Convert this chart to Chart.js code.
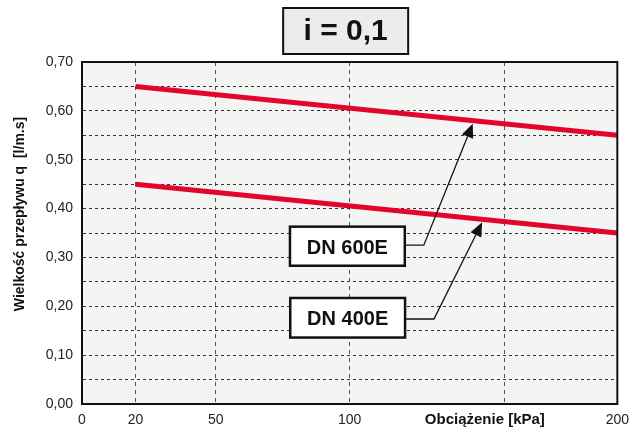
<!DOCTYPE html>
<html>
<head>
<meta charset="utf-8">
<script src="https://cdn.jsdelivr.net/npm/chart.js@4/dist/chart.umd.min.js"></script>
<style>
  html, body { margin: 0; padding: 0; background: #fff; }
  #wrap { width: 637px; height: 428px; }
</style>
</head>
<body>
<div id="wrap"><canvas id="chart"></canvas></div>
<script>
// --- DATA ---
const chartTitle = 'i = 0,1';
const xLoads = [20, 200];          // kPa
const dn600 = [0.65, 0.55];        // l/m.s
const dn400 = [0.45, 0.35];
const seriesNames = ['DN 600E', 'DN 400E'];
const xTickValues = [0, 20, 50, 100, 200];
const xExtraGrid = [158];          // unlabelled vertical gridline
const xTitle = 'Obciążenie [kPa]';
const yTitle = 'Wielkość przepływu q  [l/m.s]';

const FONT = 'Arial, "Liberation Sans", sans-serif';
const RED = '#e2062c';

// callout boxes, placed in data units (left, right, top, bottom), elbow point, arrow target x
const callouts = [
    { series: 0, box: [77.7, 120.6, 0.363, 0.283], elbow: [127.7, 0.325], tipX: 146 },
    { series: 1, box: [77.8, 120.7, 0.217, 0.136], elbow: [131.5, 0.174], tipX: 149.5 }
];
const seriesData = [dn600, dn400];

function valueAt(series, xv) {
    const t = (xv - xLoads[0]) / (xLoads[1] - xLoads[0]);
    return series[0] + t * (series[1] - series[0]);
}

// --- DECORATION PLUGIN: plot background, frame, title box, callouts, axis titles ---
const decor = {
    id: 'decor',
    beforeDraw(chart) {
        const { ctx, chartArea: a } = chart;
        ctx.save();
        ctx.fillStyle = '#f3f5f3';
        ctx.fillRect(a.left, a.top, a.right - a.left, a.bottom - a.top);
        ctx.restore();
    },
    afterDatasetsDraw(chart) {
        const { ctx, chartArea: a, scales: { x, y } } = chart;
        ctx.save();

        // frame
        ctx.strokeStyle = '#111';
        ctx.lineWidth = 2;
        ctx.strokeRect(a.left, a.top, a.right - a.left, a.bottom - a.top);

        // title box
        const cx = (a.left + a.right) / 2 - 4;
        const bw = 125, bh = 46, by = 8;
        ctx.fillStyle = '#ebedeb';
        ctx.fillRect(cx - bw / 2, by, bw, bh);
        ctx.strokeRect(cx - bw / 2, by, bw, bh);
        ctx.fillStyle = '#111';
        ctx.font = `bold 30px ${FONT}`;
        ctx.textAlign = 'center';
        ctx.textBaseline = 'middle';
        ctx.fillText(chartTitle, cx, by + bh / 2 + 1);

        // callouts
        callouts.forEach(c => {
            const l = x.getPixelForValue(c.box[0]), r = x.getPixelForValue(c.box[1]);
            const t = y.getPixelForValue(c.box[2]), b = y.getPixelForValue(c.box[3]);
            const ex = x.getPixelForValue(c.elbow[0]), ey = y.getPixelForValue(c.elbow[1]);
            const tx = x.getPixelForValue(c.tipX);
            const ty = y.getPixelForValue(valueAt(seriesData[c.series], c.tipX)) + 3;

            // leader line
            ctx.strokeStyle = '#111';
            ctx.lineWidth = 1.3;
            ctx.beginPath();
            ctx.moveTo(r, ey);
            ctx.lineTo(ex, ey);
            const ang = Math.atan2(ty - ey, tx - ex);
            const headLen = 14;
            ctx.lineTo(tx - headLen * Math.cos(ang), ty - headLen * Math.sin(ang));
            ctx.stroke();

            // arrow head
            ctx.fillStyle = '#111';
            ctx.beginPath();
            ctx.moveTo(tx, ty);
            ctx.lineTo(tx - headLen * Math.cos(ang) + 6 * Math.sin(ang), ty - headLen * Math.sin(ang) - 6 * Math.cos(ang));
            ctx.lineTo(tx - headLen * Math.cos(ang) - 6 * Math.sin(ang), ty - headLen * Math.sin(ang) + 6 * Math.cos(ang));
            ctx.closePath();
            ctx.fill();

            // box
            ctx.fillStyle = '#fff';
            ctx.fillRect(l, t, r - l, b - t);
            ctx.lineWidth = 2.5;
            ctx.strokeRect(l, t, r - l, b - t);
            ctx.fillStyle = '#111';
            ctx.font = `bold 20px ${FONT}`;
            ctx.textAlign = 'center';
            ctx.textBaseline = 'middle';
            ctx.fillText(seriesNames[c.series], (l + r) / 2, (t + b) / 2 + 2);
        });

        // x axis title sits on the tick-label row
        ctx.font = `bold 15px ${FONT}`;
        ctx.fillStyle = '#111';
        ctx.textAlign = 'center';
        ctx.textBaseline = 'middle';
        ctx.fillText(xTitle, x.getPixelForValue(150.5), a.bottom + 16);

        // y axis title, rotated
        ctx.font = `bold 14px ${FONT}`;
        ctx.translate(20, (a.top + a.bottom) / 2 - 19);
        ctx.rotate(-Math.PI / 2);
        ctx.fillText(yTitle, 0, 0);

        ctx.restore();
    }
};

const ctx = document.getElementById('chart').getContext('2d');
new Chart(ctx, {
    type: 'line',
    data: {
        datasets: [
            {
                label: seriesNames[0],
                data: xLoads.map((v, i) => ({ x: v, y: dn600[i] })),
                borderColor: RED,
                borderWidth: 5,
                pointRadius: 0,
                tension: 0,
                fill: false
            },
            {
                label: seriesNames[1],
                data: xLoads.map((v, i) => ({ x: v, y: dn400[i] })),
                borderColor: RED,
                borderWidth: 5,
                pointRadius: 0,
                tension: 0,
                fill: false
            }
        ]
    },
    options: {
        responsive: true,
        maintainAspectRatio: false,
        animation: false,
        layout: { padding: { top: 62, right: 15, left: 0, bottom: 0 } },
        plugins: {
            legend: { display: false },
            tooltip: { enabled: false },
            title: { display: false }
        },
        scales: {
            x: {
                type: 'linear',
                min: 0,
                max: 200,
                afterBuildTicks: s => {
                    s.ticks = [...xTickValues, ...xExtraGrid].sort((a, b) => a - b).map(v => ({ value: v }));
                },
                afterFit: s => { s.height = 24; },
                ticks: {
                    autoSkip: false,
                    maxRotation: 0,
                    padding: 8,
                    color: '#222',
                    font: { family: FONT, size: 14 },
                    callback: v => xExtraGrid.includes(v) ? '' : String(v)
                },
                grid: { color: '#555', lineWidth: 1, drawTicks: false },
                border: { display: true, color: '#111', width: 2, dash: [4, 4] }
            },
            y: {
                min: 0,
                max: 0.7,
                afterFit: s => { s.width = 82; },
                ticks: {
                    stepSize: 0.05,
                    autoSkip: false,
                    padding: 9,
                    color: '#222',
                    font: { family: FONT, size: 14 },
                    callback: v => Math.round(v * 100) % 10 === 0 ? v.toFixed(2).replace('.', ',') : ''
                },
                grid: { color: '#333', lineWidth: 1, drawTicks: false },
                border: { display: true, color: '#111', width: 2, dash: [3, 3] }
            }
        }
    },
    plugins: [decor]
});
</script>
</body>
</html>
